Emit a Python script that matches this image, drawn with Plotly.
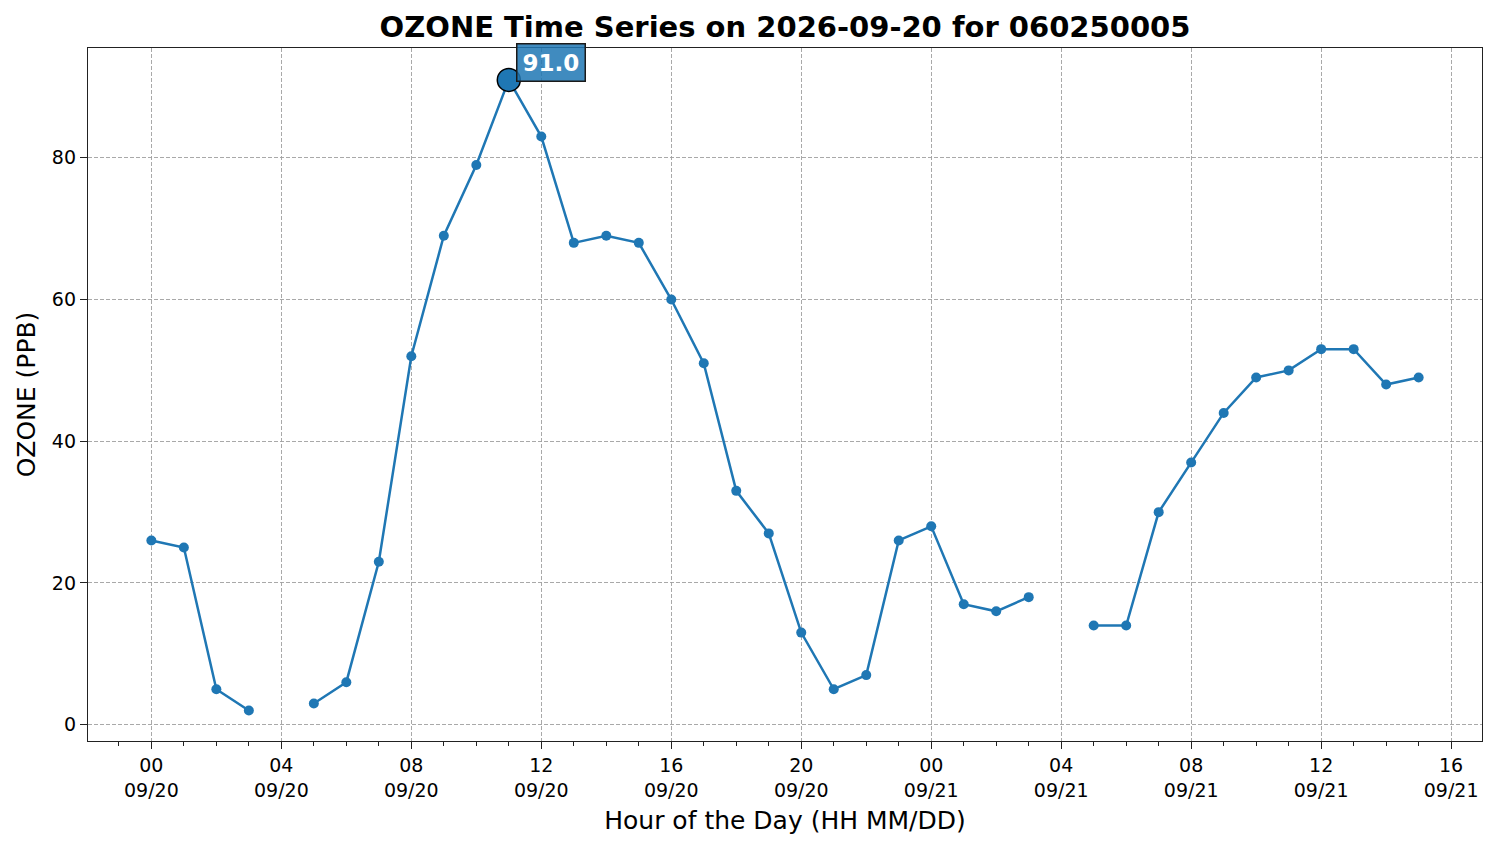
import pandas as pd
import plotly.graph_objects as go

# hourly ozone readings, site 060250005, starting 2026-09-20 00:00 (None = missing hour)
start = "2026-09-20 00:00"
ozone_ppb = [
    26, 25, 5, 2, None, 3, 6, 23, 52, 69, 79, 91, 83, 68, 69, 68, 60, 51, 33, 27, 13, 5, 7, 26,
    28, 17, 16, 18, None, 14, 14, 30, 37, 44, 49, 50, 53, 53, 48, 49,
]
y_ticks = [0, 20, 40, 60, 80]

times = pd.date_range(start, periods=len(ozone_ppb), freq="h")
valid = [(t, v) for t, v in zip(times, ozone_ppb) if v is not None]
peak_t, peak_v = max(valid, key=lambda p: p[1])

BLUE = "#1f77b4"
FONT = "DejaVu Sans"
OFF = 8  # page body margin in the browser

fig = go.Figure()
fig.add_trace(go.Scatter(
    x=times, y=ozone_ppb, mode="lines+markers",
    line=dict(color=BLUE, width=2.5),
    marker=dict(color=BLUE, size=10),
    connectgaps=False, showlegend=False,
))
fig.add_trace(go.Scatter(
    x=[peak_t], y=[peak_v], mode="markers",
    marker=dict(color=BLUE, size=23, line=dict(color="black", width=1.5)),
    showlegend=False,
))

fig.add_annotation(
    x=peak_t, y=peak_v, text=f"<b>{peak_v:.1f}</b>", showarrow=False,
    xshift=42, yshift=17, xanchor="center", yanchor="middle",
    font=dict(family=FONT, size=23, color="white"),
    bgcolor="rgba(31,119,180,0.85)", bordercolor="#1a1a1a", borderwidth=1.5, borderpad=5,
)

grid = dict(showgrid=True, gridcolor="rgba(160,160,160,0.9)", gridwidth=1, griddash="4px,2px")
axis = dict(showline=True, linecolor="#222222", linewidth=1.3, mirror=True,
            ticks="outside", ticklen=7, tickwidth=1.3, tickcolor="#222222",
            tickfont=dict(family=FONT, size=19, color="black"), zeroline=False, **grid)

x0 = times[0] - pd.Timedelta(hours=1.95)
x1 = times[-1] + pd.Timedelta(hours=1.95)

fig.update_layout(
    width=1498, height=847,
    paper_bgcolor="white", plot_bgcolor="white",
    margin=dict(l=88 - OFF, r=16 + OFF, t=48 - OFF, b=106 + OFF),
    font=dict(family=FONT, color="black"),
    title=dict(text="<b>OZONE Time Series on 2026-09-20 for 060250005</b>",
               x=0.5, xref="paper", xanchor="center",
               y=1 - (27 - OFF) / 847, yref="container", yanchor="middle",
               font=dict(family=FONT, size=29, color="black")),
    xaxis=dict(type="date", range=[x0, x1], tick0=start, dtick=4 * 3600000,
               tickformat="%H<br>%m/%d",
               minor=dict(dtick=3600000, ticks="outside", ticklen=4, tickwidth=1.3,
                          tickcolor="#222222", showgrid=False),
               title=dict(text="Hour of the Day (HH MM/DD)", standoff=11,
                          font=dict(family=FONT, size=25, color="black")),
               **axis),
    yaxis=dict(range=[-2.3, 95.5], tickvals=y_ticks,
               title=dict(text="OZONE (PPB)", standoff=9,
                          font=dict(family=FONT, size=25, color="black")),
               **axis),
)

fig.write_html("out.html")
